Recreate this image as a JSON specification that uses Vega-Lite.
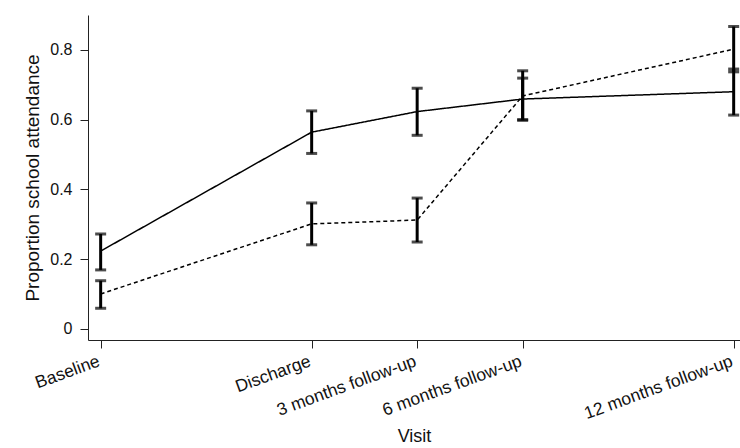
{
  "$schema": "https://vega.github.io/schema/vega-lite/v6.json",
  "width": 652,
  "height": 325,
  "autosize": {"type": "none"},
  "padding": {"left": 88, "top": 15, "right": 0, "bottom": 108},
  "background": "white",
  "config": {
    "view": {"stroke": null},
    "font": "Liberation Sans",
    "axis": {"labelFont": "Liberation Sans", "titleFont": "Liberation Sans", "labelColor": "#111", "titleColor": "#111", "domainColor": "#222", "tickColor": "#222", "grid": false, "titleFontWeight": "normal"}
  },
  "data": {
    "values": [
      {"visit": "Baseline", "pos": 0, "group": "A", "mean": 0.223, "lo": 0.169, "hi": 0.272},
      {"visit": "Discharge", "pos": 2, "group": "A", "mean": 0.564, "lo": 0.503, "hi": 0.625},
      {"visit": "3 months follow-up", "pos": 3, "group": "A", "mean": 0.623, "lo": 0.555, "hi": 0.69},
      {"visit": "6 months follow-up", "pos": 4, "group": "A", "mean": 0.659, "lo": 0.598, "hi": 0.719},
      {"visit": "12 months follow-up", "pos": 6, "group": "A", "mean": 0.68, "lo": 0.613, "hi": 0.745},
      {"visit": "Baseline", "pos": 0, "group": "B", "mean": 0.1, "lo": 0.059, "hi": 0.138},
      {"visit": "Discharge", "pos": 2, "group": "B", "mean": 0.301, "lo": 0.241, "hi": 0.361},
      {"visit": "3 months follow-up", "pos": 3, "group": "B", "mean": 0.312, "lo": 0.249, "hi": 0.375},
      {"visit": "6 months follow-up", "pos": 4, "group": "B", "mean": 0.668, "lo": 0.6, "hi": 0.74},
      {"visit": "12 months follow-up", "pos": 6, "group": "B", "mean": 0.802, "lo": 0.737, "hi": 0.867}
    ]
  },
  "encoding": {
    "x": {
      "field": "pos", "type": "quantitative",
      "scale": {"domain": [-0.12, 6.06], "nice": false, "zero": false},
      "axis": {
        "title": "Visit", "titleFontSize": 18, "titlePadding": 5,
        "values": [0, 2, 3, 4, 6],
        "labelExpr": "datum.value == 0 ? 'Baseline' : datum.value == 2 ? 'Discharge' : datum.value == 3 ? '3 months follow-up' : datum.value == 4 ? '6 months follow-up' : '12 months follow-up'",
        "labelAngle": -20, "labelAlign": "right", "labelBaseline": "top",
        "labelFontSize": 17.5, "tickSize": 8, "labelPadding": 4, "labelOffset": -5, "labelOverlap": false, "labelBound": false, "labelFlush": false
      }
    }
  },
  "layer": [
    {
      "mark": {"type": "line", "color": "black", "strokeWidth": 1.5},
      "encoding": {
        "y": {
          "field": "mean", "type": "quantitative",
          "title": "Proportion school attendance",
          "scale": {"domain": [-0.032, 0.9], "nice": false, "zero": false},
          "axis": {
            "titleFontSize": 19,
            "values": [0, 0.2, 0.4, 0.6, 0.8],
            "labelExpr": "datum.value == 0 ? '0' : format(datum.value, '.1f')",
            "labelFontSize": 16, "tickSize": 8, "labelPadding": 8, "titlePadding": 7
          }
        },
        "strokeDash": {
          "field": "group", "type": "nominal",
          "scale": {"domain": ["A", "B"], "range": [[1, 0], [4, 3]]},
          "legend": null
        }
      }
    },
    {
      "mark": {
        "type": "errorbar",
        "ticks": {"size": 11, "thickness": 3, "color": "black"},
        "rule": {"strokeWidth": 3, "color": "black"}
      },
      "encoding": {
        "y": {"field": "lo", "type": "quantitative", "title": "Proportion school attendance"},
        "y2": {"field": "hi"},
        "detail": {"field": "group"}
      }
    }
  ]
}
